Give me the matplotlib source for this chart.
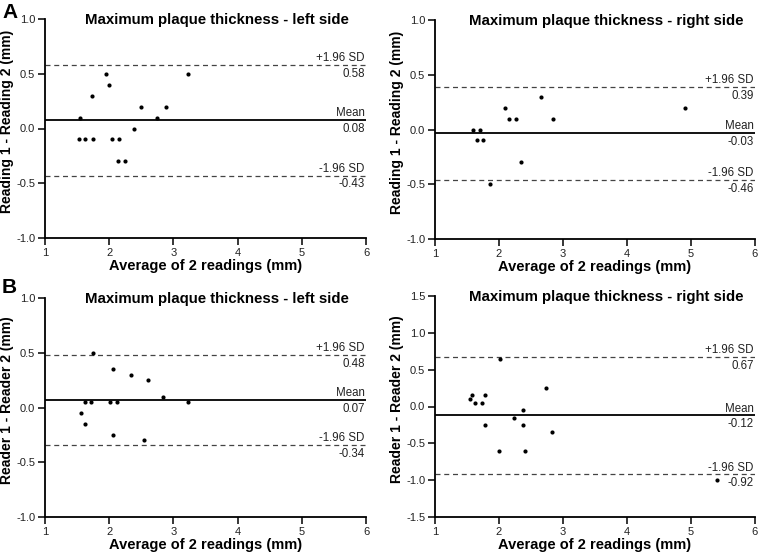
import matplotlib
matplotlib.use("Agg")
import matplotlib.pyplot as plt
import numpy as np

plt.rcParams['font.family'] = ['Liberation Sans', 'DejaVu Sans']

# panel A left: reading 1 vs reading 2, left side
a_left_avg = [1.55, 1.53, 1.63, 1.74, 1.73, 1.95, 2.00, 2.04, 2.15, 2.14, 2.24, 2.39, 2.49, 2.74, 2.88, 3.23]
a_left_diff = [0.1, -0.1, -0.1, -0.1, 0.3, 0.5, 0.4, -0.1, -0.1, -0.3, -0.3, 0.0, 0.2, 0.1, 0.2, 0.5]
a_left_stats = [0.08, 0.58, -0.43]   # mean, +1.96 SD, -1.96 SD

# panel A right
a_right_avg = [1.59, 1.70, 1.65, 1.75, 1.86, 2.10, 2.15, 2.26, 2.35, 2.66, 2.85, 4.91]
a_right_diff = [0.0, 0.0, -0.1, -0.1, -0.5, 0.2, 0.1, 0.1, -0.3, 0.3, 0.1, 0.2]
a_right_stats = [-0.03, 0.39, -0.46]

# panel B left: reader 1 vs reader 2
b_left_avg = [1.74, 2.06, 2.34, 2.61, 2.84, 1.62, 1.72, 2.01, 2.12, 3.22, 1.56, 1.62, 2.06, 2.54]
b_left_diff = [0.5, 0.35, 0.3, 0.25, 0.1, 0.05, 0.05, 0.05, 0.05, 0.05, -0.05, -0.15, -0.25, -0.3]
b_left_stats = [0.07, 0.48, -0.34]

# panel B right
b_right_avg = [2.02, 2.73, 1.55, 1.58, 1.63, 1.73, 1.78, 2.37, 2.23, 1.78, 2.37, 2.83, 2.00, 2.41, 5.41]
b_right_diff = [0.65, 0.25, 0.1, 0.15, 0.05, 0.05, 0.15, -0.05, -0.15, -0.25, -0.25, -0.35, -0.6, -0.6, -1.0]
b_right_stats = [-0.12, 0.67, -0.92]

W, H = 759, 554
fig = plt.figure(figsize=(W / 100, H / 100), dpi=100)


def px_axes(x0, x1, ytop, ybot):
    return fig.add_axes([x0 / W, 1 - ybot / H, (x1 - x0) / W, (ybot - ytop) / H])


def bland_altman(ax, avg, diff, stats, title, ylabel, ylim, yticks):
    mean, upper, lower = stats
    ax.scatter(avg, diff, s=9, color='black', zorder=3, linewidths=0)
    ax.axhline(mean, color='black', lw=1.3)
    ax.axhline(upper, color='#444444', lw=0.9, linestyle=(0, (4, 3)))
    ax.axhline(lower, color='#444444', lw=0.9, linestyle=(0, (4, 3)))
    for val, name in [(mean, 'Mean'), (upper, '+1.96 SD'), (lower, '-1.96 SD')]:
        ax.annotate(name, (6, val), xytext=(-1, 0.5), textcoords='offset points',
                    ha='right', va='bottom', fontsize=8.3, color='#222222')
        ax.annotate(f"{val:.2f}", (6, val), xytext=(-1, -2), textcoords='offset points',
                    ha='right', va='top', fontsize=8.3, color='#222222')
    ax.set_xlim(1, 6)
    ax.set_ylim(*ylim)
    ax.set_xticks([1, 2, 3, 4, 5, 6])
    ax.set_yticks(yticks)
    ax.set_yticklabels([f"{t:.1f}" for t in yticks])
    for s in ['top', 'right']:
        ax.spines[s].set_visible(False)
    for s in ['left', 'bottom']:
        ax.spines[s].set_linewidth(1.3)
    ax.tick_params(direction='out', length=5, width=1.1, labelsize=8, pad=2,
                   labelcolor='#222222')
    ax.text(0.535, 1 - 5 / 219, title, transform=ax.transAxes, ha='center',
            va='baseline', fontsize=10.8, fontweight='bold')
    ax.set_xlabel("Average of 2 readings (mm)", fontsize=10.5, fontweight='bold', labelpad=1)
    ax.set_ylabel(ylabel, fontsize=10, fontweight='bold')
    ax.yaxis.set_label_coords(-0.098, 0.534)


ax1 = px_axes(45, 366, 19, 238)
bland_altman(ax1, a_left_avg, a_left_diff, a_left_stats,
             "Maximum plaque thickness - left side", "Reading 1 - Reading 2 (mm)",
             (-1, 1), [-1.0, -0.5, 0.0, 0.5, 1.0])
ax2 = px_axes(435, 755, 20, 239)
bland_altman(ax2, a_right_avg, a_right_diff, a_right_stats,
             "Maximum plaque thickness - right side", "Reading 1 - Reading 2 (mm)",
             (-1, 1), [-1.0, -0.5, 0.0, 0.5, 1.0])
ax3 = px_axes(45, 366, 298, 517)
bland_altman(ax3, b_left_avg, b_left_diff, b_left_stats,
             "Maximum plaque thickness - left side", "Reader 1 - Reader 2 (mm)",
             (-1, 1), [-1.0, -0.5, 0.0, 0.5, 1.0])
ax4 = px_axes(435, 755, 296, 517)
bland_altman(ax4, b_right_avg, b_right_diff, b_right_stats,
             "Maximum plaque thickness - right side", "Reader 1 - Reader 2 (mm)",
             (-1.5, 1.5), [-1.5, -1.0, -0.5, 0.0, 0.5, 1.0, 1.5])

fig.text(2 / W, 1 - 18 / H, "A", fontsize=15, fontweight='bold', va='baseline')
fig.text(2 / W, 1 - 293 / H, "B", fontsize=15, fontweight='bold', va='baseline')

fig.savefig("out.png", dpi=100)
